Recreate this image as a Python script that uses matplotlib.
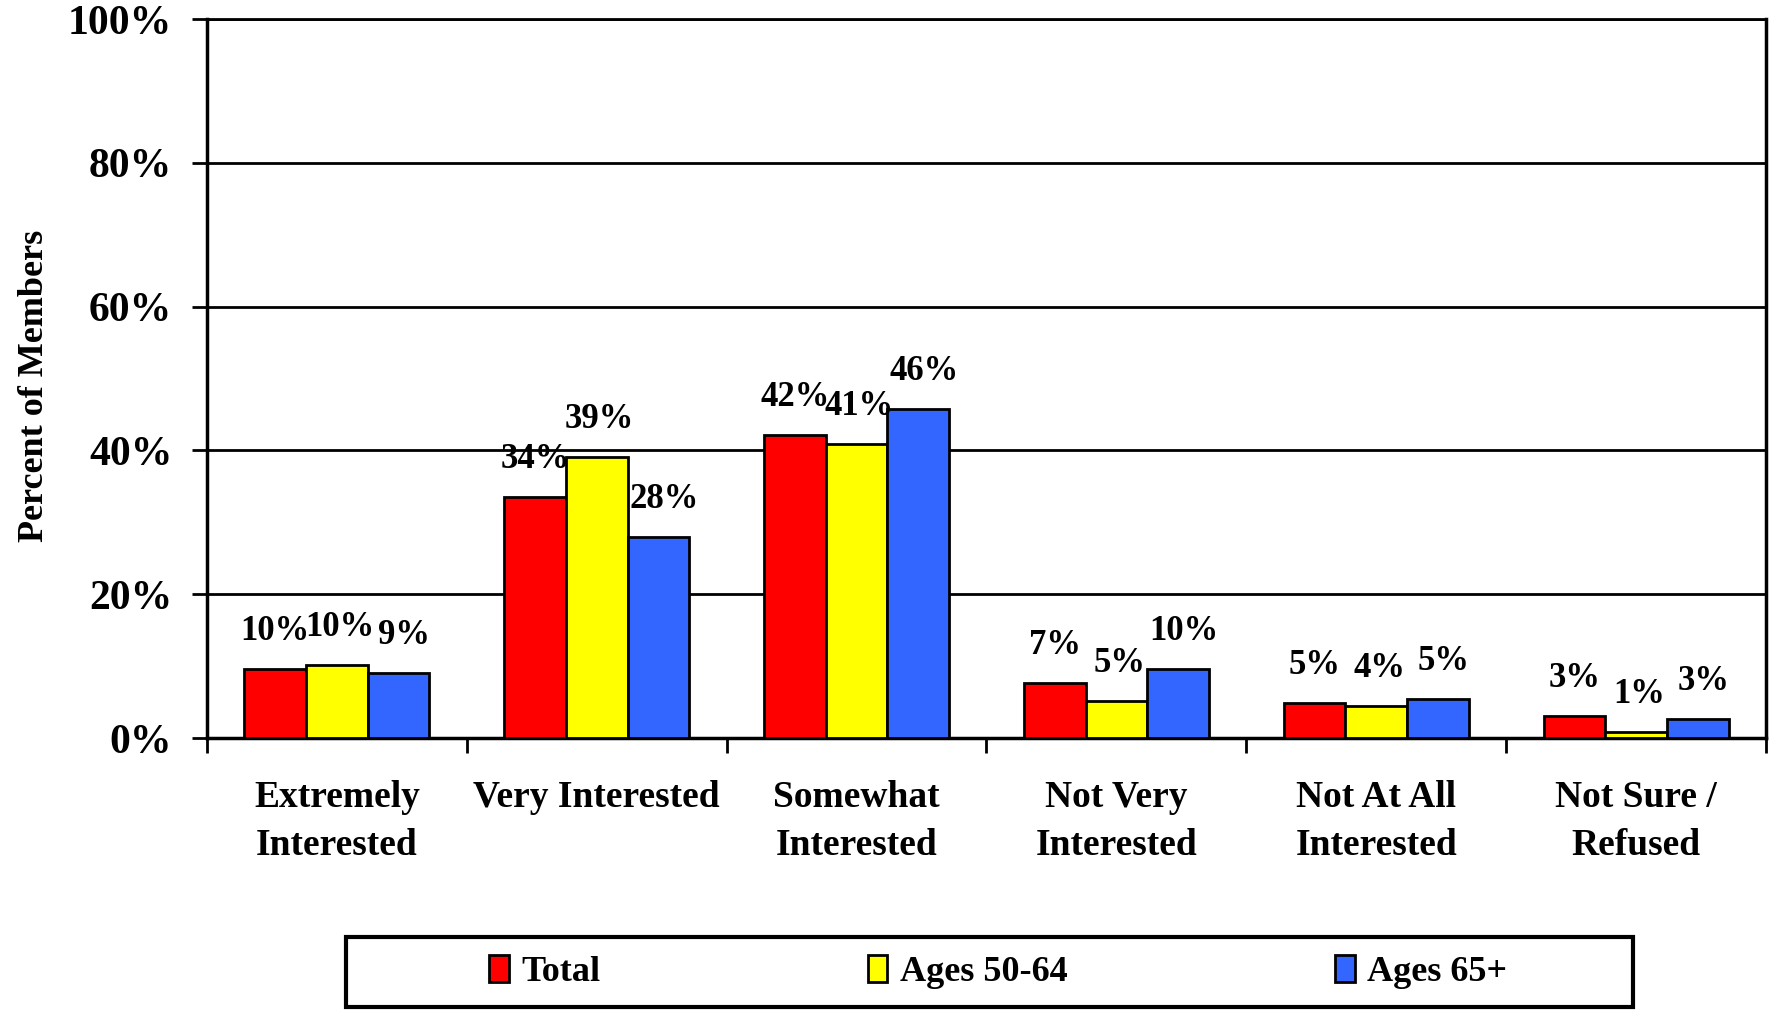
import matplotlib
matplotlib.use("Agg")
import matplotlib.pyplot as plt
from matplotlib.patches import Rectangle
import numpy as np

categories = ["Extremely\nInterested", "Very Interested", "Somewhat\nInterested",
              "Not Very\nInterested", "Not At All\nInterested", "Not Sure /\nRefused"]
series_names = ["Total", "Ages 50-64", "Ages 65+"]
total = [9.6, 33.5, 42.2, 7.6, 4.9, 3.1]
ages_50_64 = [10.1, 39.1, 40.9, 5.2, 4.4, 0.9]
ages_65 = [9.1, 27.9, 45.7, 9.6, 5.4, 2.7]
labels_total = ["10%", "34%", "42%", "7%", "5%", "3%"]
labels_50_64 = ["10%", "39%", "41%", "5%", "4%", "1%"]
labels_65 = ["9%", "28%", "46%", "10%", "5%", "3%"]
yticks = [0, 20, 40, 60, 80, 100]
ytick_labels = ["0%", "20%", "40%", "60%", "80%", "100%"]

colors = ["#FF0000", "#FFFF00", "#3366FF"]
plt.rcParams['font.family'] = ['Liberation Serif', 'DejaVu Serif']
plt.rcParams['font.weight'] = 'bold'

W, H = 1775, 1013
fig = plt.figure(figsize=(W / 100, H / 100), dpi=100)
ax = fig.add_axes([207 / W, 1 - 738 / H, (1766 - 207) / W, (738 - 19) / H])

x = np.arange(len(categories))
bw = 0.2375
all_vals = [total, ages_50_64, ages_65]
all_labels = [labels_total, labels_50_64, labels_65]
for i, (vals, labs, name, c) in enumerate(zip(all_vals, all_labels, series_names, colors)):
    pos = x + (i - 1) * bw
    ax.bar(pos, vals, width=bw, color=c, edgecolor="black", linewidth=2,
           label=name, zorder=3)
    for p, v, lab in zip(pos, vals, labs):
        ax.annotate(lab, xy=(p, v), xytext=(2 * i, 27), textcoords="offset points",
                    ha="center", va="center", fontsize=25, fontweight="bold", zorder=4)

ax.set_xlim(-0.5, len(categories) - 0.5)
ax.set_ylim(0, 100)
ax.set_yticks(yticks)
ax.set_yticklabels(ytick_labels, fontsize=30, fontweight="bold")
ax.yaxis.grid(True, color="black", linewidth=2, zorder=0)
ax.tick_params(axis="y", length=11, width=2, pad=14)

ax.set_xticks(x)
ax.set_xticklabels(categories, fontsize=27, fontweight="bold", linespacing=1.5)
ax.set_xticks(np.arange(-0.5, len(categories), 1.0), minor=True)
ax.tick_params(axis="x", which="major", length=0, pad=30)
ax.tick_params(axis="x", which="minor", length=11, width=2)

for s in ["left", "bottom", "right"]:
    ax.spines[s].set_linewidth(2.5)
ax.spines["top"].set_linewidth(2)

ax.set_ylabel("Percent of Members", fontsize=26, fontweight="bold")
ax.yaxis.set_label_coords(-0.1, 0.49)

fig.patches.append(Rectangle((346 / W, 1 - 1007 / H), (1633 - 346) / W, 70 / H,
                             transform=fig.transFigure, fill=False,
                             edgecolor="black", linewidth=3))
leg = fig.legend(loc="center", bbox_to_anchor=(998 / W, 1 - 972 / H), ncol=3,
                 frameon=False, handlelength=0.55, handleheight=0.75,
                 handletextpad=0.35, columnspacing=7.4,
                 prop={"weight": "bold", "size": 26})

fig.savefig("out.png", dpi=100)
